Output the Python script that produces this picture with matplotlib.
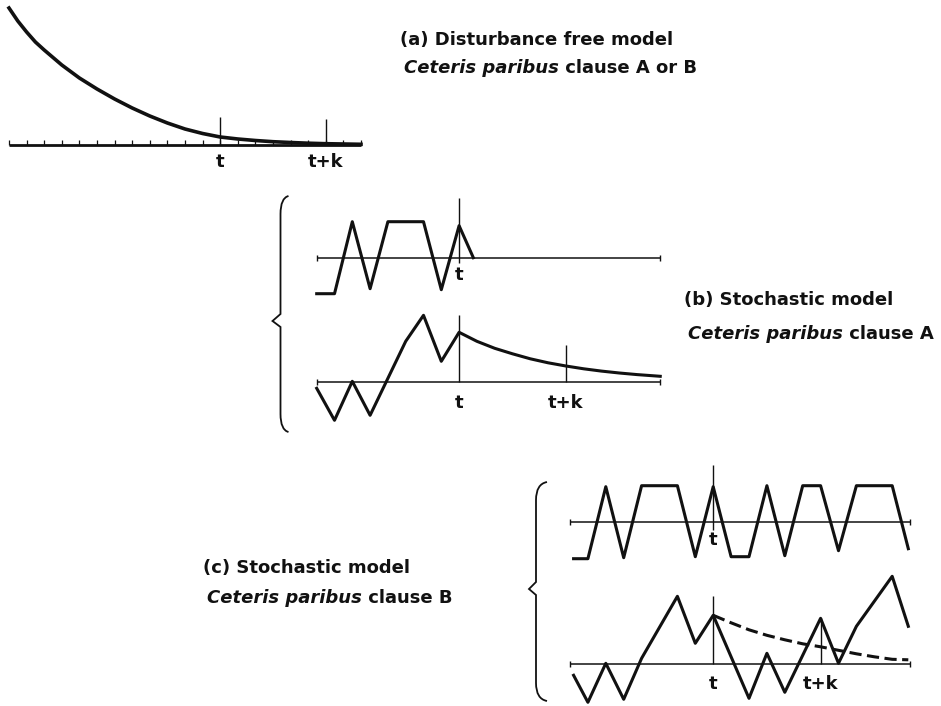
import matplotlib
matplotlib.use("Agg")
import matplotlib.pyplot as plt
from matplotlib.path import Path
from matplotlib.patches import PathPatch

W, H = 941, 706
ink = "#111111"

# (a) disturbance free model: height of the curve above the time axis
a_time = [0, 0.5, 1, 1.5, 2, 3, 4, 5, 6, 7, 8, 9, 10, 11, 12, 13, 14, 15, 16, 17, 18, 19, 20]
a_level = [137, 124, 113, 103, 95, 80, 67, 56, 46, 37, 29, 22, 16, 11.5, 8, 6, 4.5, 3.3, 2.5, 1.8, 1.3, 1, 0.7]
a_ticks = list(range(21))

# (b) stochastic model, clause A: disturbances and response
b_shock_time = [0, 1, 2, 3, 4, 6, 7, 8, 8.8]
b_shock = [-36, -36, 36, -31, 36, 36, -32, 32, 0]
b_resp_time = [0, 1, 2, 3, 5, 6, 7, 8, 9, 10, 11, 12, 13, 14, 15, 16, 17, 18, 19, 19.3]
b_resp = [-6, -38, 1, -33, 41, 67, 21, 50, 41, 34, 28.5, 23.5, 19.5, 16.3, 13.5, 11.2, 9.3, 7.7, 6.4, 6]

# (c) stochastic model, clause B: disturbances, response and expected path
c_shock_time = [0.2, 1, 2, 3, 4, 6, 7, 8, 9, 10, 11, 12, 13, 14, 15, 16, 18, 18.9]
c_shock = [-37, -37, 35, -36, 36, 36, -35, 35, -35, -35, 36, -34, 36, 36, -29, 36, 36, -27]
c_resp_time = [0.2, 1, 2, 3, 4, 6, 7, 8, 10, 11, 12, 14, 15, 16, 17, 18, 18.9]
c_resp = [-11, -38, 1, -35, 6, 68, 21, 49, -34, 11, -28, 46, 1, 38, 63, 88, 38]
c_expect_time = [8, 9, 10, 11, 12, 13, 14, 15, 16, 17, 18, 18.9]
c_expect = [49, 41.5, 34.5, 29, 24.5, 20.5, 17.5, 14, 10.5, 7.5, 5, 4.5]

T_NOW, K = 8, 6

plt.rcParams['font.family'] = ['DejaVu Sans']
fig = plt.figure(figsize=(W / 100, H / 100), dpi=100)


def panel(left, base, step):
    # full-figure axes: time unit = step px, y in px above the zero line at row `base`
    ax = fig.add_axes([0, 0, 1, 1])
    ax.set_xlim(-left / step, (W - left) / step)
    ax.set_ylim(base - H, base)
    ax.axis('off')
    ax.patch.set_alpha(0)
    return ax


def zero_line(ax, t_end):
    ax.plot([0, t_end], [0, 0], color=ink, lw=1.1, solid_capstyle='butt')
    ax.vlines([0, t_end], -3, 3, color=ink, lw=1.0)


def label(ax, t, y, s):
    ax.text(t, y, s, ha='center', va='center', fontsize=13, fontweight='bold', color=ink)


# ---- (a)
ax_a = panel(9, 145, 17.6)
ax_a.plot([0, 20], [0, 0], color=ink, lw=2.0, solid_capstyle='butt')
ax_a.vlines(a_ticks, 0, 5, color=ink, lw=0.9)
ax_a.plot(a_time, a_level, color=ink, lw=2.6, solid_joinstyle='round')
ax_a.vlines([12, 18], 0, [28, 26], color=ink, lw=1.0)
label(ax_a, 12, -17, 't')
label(ax_a, 18, -17, 't+k')

# ---- (b) top: disturbances
ax_b1 = panel(316.7, 257.7, 17.8)
zero_line(ax_b1, 19.3)
ax_b1.plot(b_shock_time, b_shock, color=ink, lw=2.2)
ax_b1.vlines(T_NOW, -5, 60, color=ink, lw=1.0)
label(ax_b1, T_NOW, -17, 't')

# ---- (b) bottom: response
ax_b2 = panel(316.7, 382.3, 17.8)
zero_line(ax_b2, 19.3)
ax_b2.plot(b_resp_time, b_resp, color=ink, lw=2.2)
ax_b2.vlines([T_NOW, T_NOW + K], 0, [67, 37], color=ink, lw=1.0)
label(ax_b2, T_NOW, -21, 't')
label(ax_b2, T_NOW + K, -21, 't+k')

# ---- (c) top: disturbances
ax_c1 = panel(570, 521.7, 17.9)
zero_line(ax_c1, 19.0)
ax_c1.plot(c_shock_time, c_shock, color=ink, lw=2.2)
ax_c1.vlines(T_NOW, -8, 57, color=ink, lw=1.0)
label(ax_c1, T_NOW, -18, 't')

# ---- (c) bottom: response and expected path
ax_c2 = panel(570, 664.3, 17.9)
zero_line(ax_c2, 19.0)
ax_c2.plot(c_resp_time, c_resp, color=ink, lw=2.2)
ax_c2.plot(c_expect_time, c_expect, color=ink, lw=2.2, dashes=(4, 1.8))
ax_c2.vlines([T_NOW, T_NOW + K], 0, [68, 46], color=ink, lw=1.0)
label(ax_c2, T_NOW, -20, 't')
label(ax_c2, T_NOW + K, -20, 't+k')

# ---- overlay in pixel coordinates: braces and captions
ov = fig.add_axes([0, 0, 1, 1])
ov.set_xlim(0, W)
ov.set_ylim(H, 0)
ov.axis('off')
ov.patch.set_alpha(0)


def brace(x, top, tip, bottom, depth, curl):
    verts = [(x + curl, top), (x, top + 2), (x, top + 18),
             (x, tip - 7), (x - depth, tip), (x, tip + 6),
             (x, bottom - 18), (x, bottom - 2), (x + curl, bottom)]
    codes = [Path.MOVETO, Path.CURVE3, Path.CURVE3,
             Path.LINETO, Path.LINETO, Path.LINETO,
             Path.LINETO, Path.CURVE3, Path.CURVE3]
    ov.add_patch(PathPatch(Path(verts, codes), fill=False, ec=ink, lw=1.3))


brace(280.5, 196, 321, 432, 8, 8)
brace(536, 482, 589, 701, 7, 11)


def caption(x, y1, y2, head, tail):
    kw = dict(fontsize=13, fontweight='bold', color=ink)
    ov.text(x, y1, head, ha='left', va='center', **kw)
    it = ov.text(x + 4, y2, 'Ceteris paribus', ha='left', va='center', style='italic', **kw)
    ov.annotate(' ' + tail, xy=(1, 0), xycoords=it, ha='left', va='bottom', **kw)


caption(400, 40, 68, '(a) Disturbance free model', 'clause A or B')
caption(684, 300, 334, '(b) Stochastic model', 'clause A')
caption(203, 568, 598, '(c) Stochastic model', 'clause B')

fig.savefig('out.png', dpi=100, facecolor='white')
